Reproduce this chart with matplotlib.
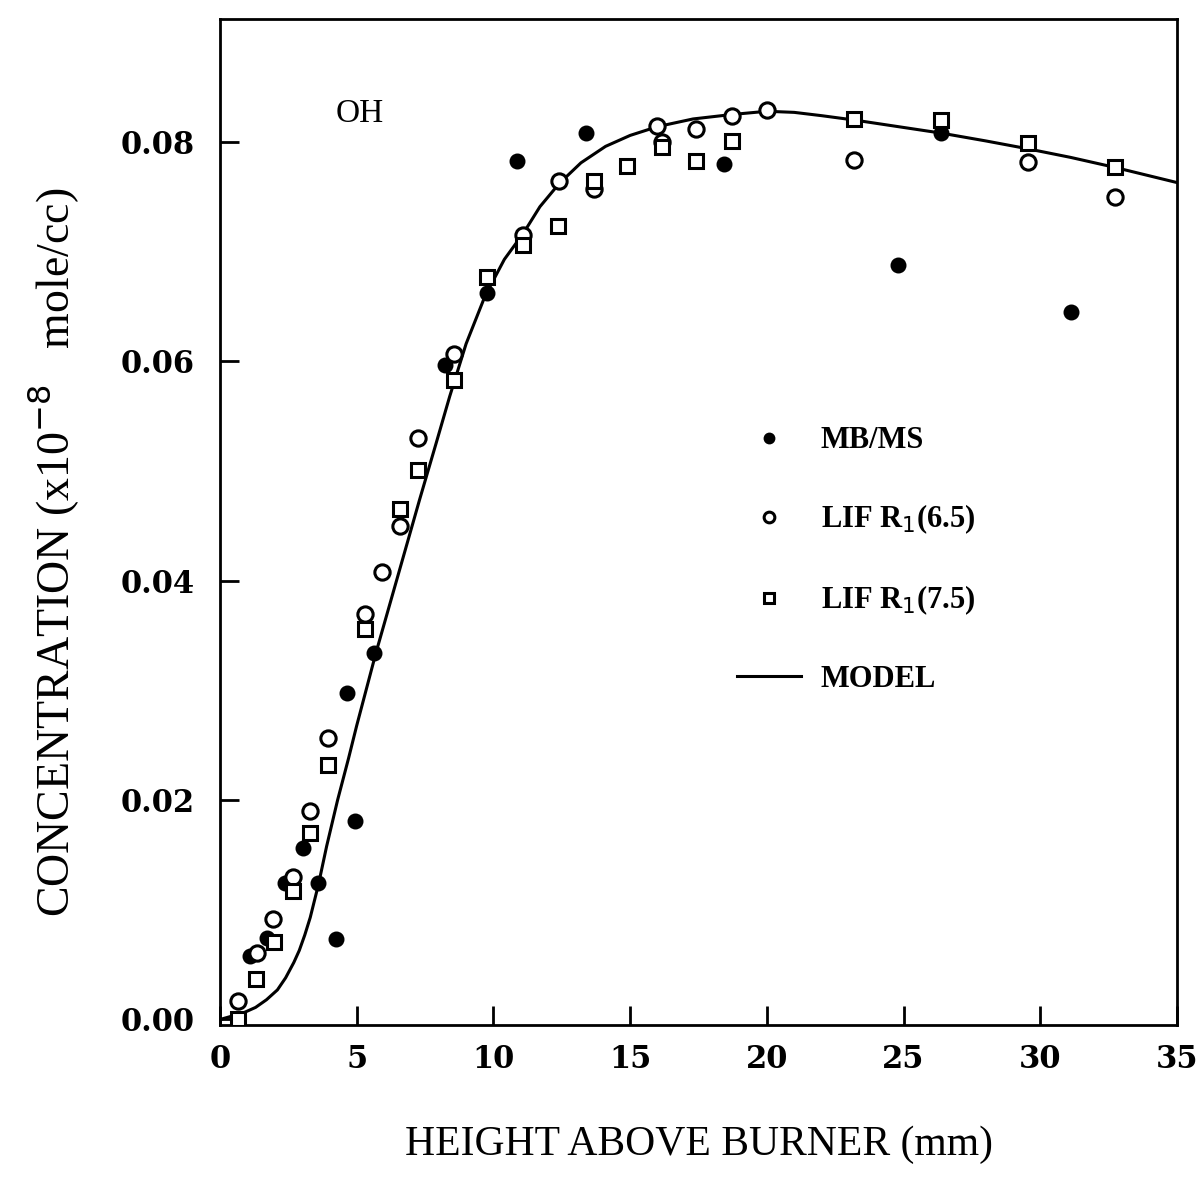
import matplotlib
matplotlib.use("Agg")
import matplotlib.pyplot as plt

# ==========================
# data
# ==========================
mb_x = [1.1, 1.71, 2.38, 3.03, 3.6, 4.25, 4.64, 4.95, 5.65, 8.24, 9.77, 10.86, 13.4, 18.44, 24.8, 26.37, 31.14]
mb_y = [0.0058, 0.0074, 0.0124, 0.0156, 0.0124, 0.0073, 0.0298, 0.0181, 0.0334, 0.0597, 0.0662, 0.0783, 0.0808, 0.0780, 0.0688, 0.0808, 0.0645]

lif65_x = [0.65, 1.34, 1.95, 2.66, 3.3, 3.94, 5.29, 5.92, 6.59, 7.23, 8.55, 11.08, 12.39, 13.67,
           15.97, 16.18, 17.4, 18.73, 20.02, 23.2, 29.55, 32.72]
lif65_y = [0.0017, 0.0061, 0.0092, 0.0130, 0.0190, 0.0257, 0.0370, 0.0408, 0.0450, 0.0530, 0.0607, 0.0715, 0.0764, 0.0757,
           0.0815, 0.0800, 0.0812, 0.0824, 0.0829, 0.0784, 0.0782, 0.0750]

lif75_x = [0.65, 1.32, 1.98, 2.66, 3.3, 3.94, 5.29, 6.59, 7.23, 8.55, 9.77, 11.08, 12.37, 13.67,
           14.9, 16.18, 17.42, 18.73, 23.2, 26.37, 29.55, 32.72]
lif75_y = [0.0000, 0.0037, 0.0071, 0.0117, 0.0170, 0.0232, 0.0356, 0.0465, 0.0501, 0.0583, 0.0677, 0.0706, 0.0723, 0.0764,
           0.0778, 0.0795, 0.0783, 0.0801, 0.0821, 0.0820, 0.0799, 0.0777]

# model curve, points
model_x = [0.0, 0.85, 1.3, 1.7, 2.1, 2.4, 2.7, 2.9, 3.1, 3.3, 3.6, 3.9, 4.3, 4.7, 5.0, 5.7, 6.5, 7.3,
           7.9, 8.4, 9.0, 9.7, 10.4, 11.1, 11.7, 12.4, 13.2, 14.1, 15.0, 16.0, 17.3, 18.7, 20.0, 21.0,
           22.0, 23.2, 24.8, 26.4, 28.0, 29.5, 31.1, 32.7, 35.0]
model_y = [0.0, 0.0006, 0.0011, 0.0018, 0.0027, 0.0038, 0.0052, 0.0063, 0.0077, 0.0093, 0.0123, 0.0158,
           0.0200, 0.0238, 0.0268, 0.0334, 0.0404, 0.0474, 0.0525, 0.0568, 0.0616, 0.0660, 0.0693, 0.0717,
           0.0741, 0.0762, 0.0781, 0.0796, 0.0806, 0.0814, 0.0821, 0.0825, 0.0828, 0.0827, 0.0824, 0.0820,
           0.0814, 0.0808, 0.0801, 0.0794, 0.0786, 0.0777, 0.0763]

x_ticks = [0, 5, 10, 15, 20, 25, 30, 35]
y_ticks = [0.00, 0.02, 0.04, 0.06, 0.08]

# ==========================
# figure
# ==========================
fig = plt.figure(figsize=(11.97, 11.96), dpi=100)
ax = fig.add_axes([0.1838, 0.143, 0.7995, 0.841])

ax.plot(model_x, model_y, color="black", lw=2.2, label="MODEL", zorder=2)
ax.plot(mb_x, mb_y, "o", ms=10, mfc="black", mec="black", mew=1.5, label="MB/MS", zorder=3)
ax.plot(lif65_x, lif65_y, "o", ms=11, mfc="white", mec="black", mew=2.2,
        label="LIF R$_1$(6.5)", zorder=3)
ax.plot(lif75_x, lif75_y, "s", ms=10, mfc="white", mec="black", mew=2.2,
        label="LIF R$_1$(7.5)", zorder=3)

ax.set_xlim(0, 35)
ax.set_ylim(-0.0005, 0.0912)

ax.set_xticks(x_ticks)
ax.set_yticks(y_ticks)
ax.set_xticklabels([str(t) for t in x_ticks])
ax.set_yticklabels(["%.2f" % t for t in y_ticks])
ax.tick_params(direction="in", length=14, width=2, top=False, right=False)
ax.tick_params(axis="x", pad=14)
ax.tick_params(axis="y", pad=18)
for lab in ax.get_xticklabels():
    lab.set_fontfamily("DejaVu Serif")
    lab.set_fontweight("bold")
    lab.set_fontsize(22)
for lab in ax.get_yticklabels():
    lab.set_fontfamily("DejaVu Serif")
    lab.set_fontweight("bold")
    lab.set_fontsize(22)

for s in ax.spines.values():
    s.set_linewidth(2)

ax.text(5.1, 0.0826, "OH", fontsize=24, family="Liberation Serif", ha="center", va="center")

ax.set_xlabel("HEIGHT ABOVE BURNER (mm)", fontsize=30, family="Liberation Serif")
ax.xaxis.set_label_coords(0.5, -0.1)
ax.set_ylabel("CONCENTRATION (x10$^{-8}$   mole/cc)", fontsize=33, family="Liberation Serif")
ax.yaxis.set_label_coords(-0.145, 0.47)

# legend order as in the figure
handles, labels = ax.get_legend_handles_labels()
order = [1, 2, 3, 0]
leg = ax.legend([handles[i] for i in order], [labels[i] for i in order],
                loc="upper left", bbox_to_anchor=(0.54, 0.595), frameon=False,
                borderpad=0, borderaxespad=0, handlelength=2.1, handletextpad=0.65,
                labelspacing=1.55, markerscale=0.7,
                prop={"family": "Liberation Serif", "weight": "bold", "size": 22})

fig.savefig("out.png", dpi=100)
